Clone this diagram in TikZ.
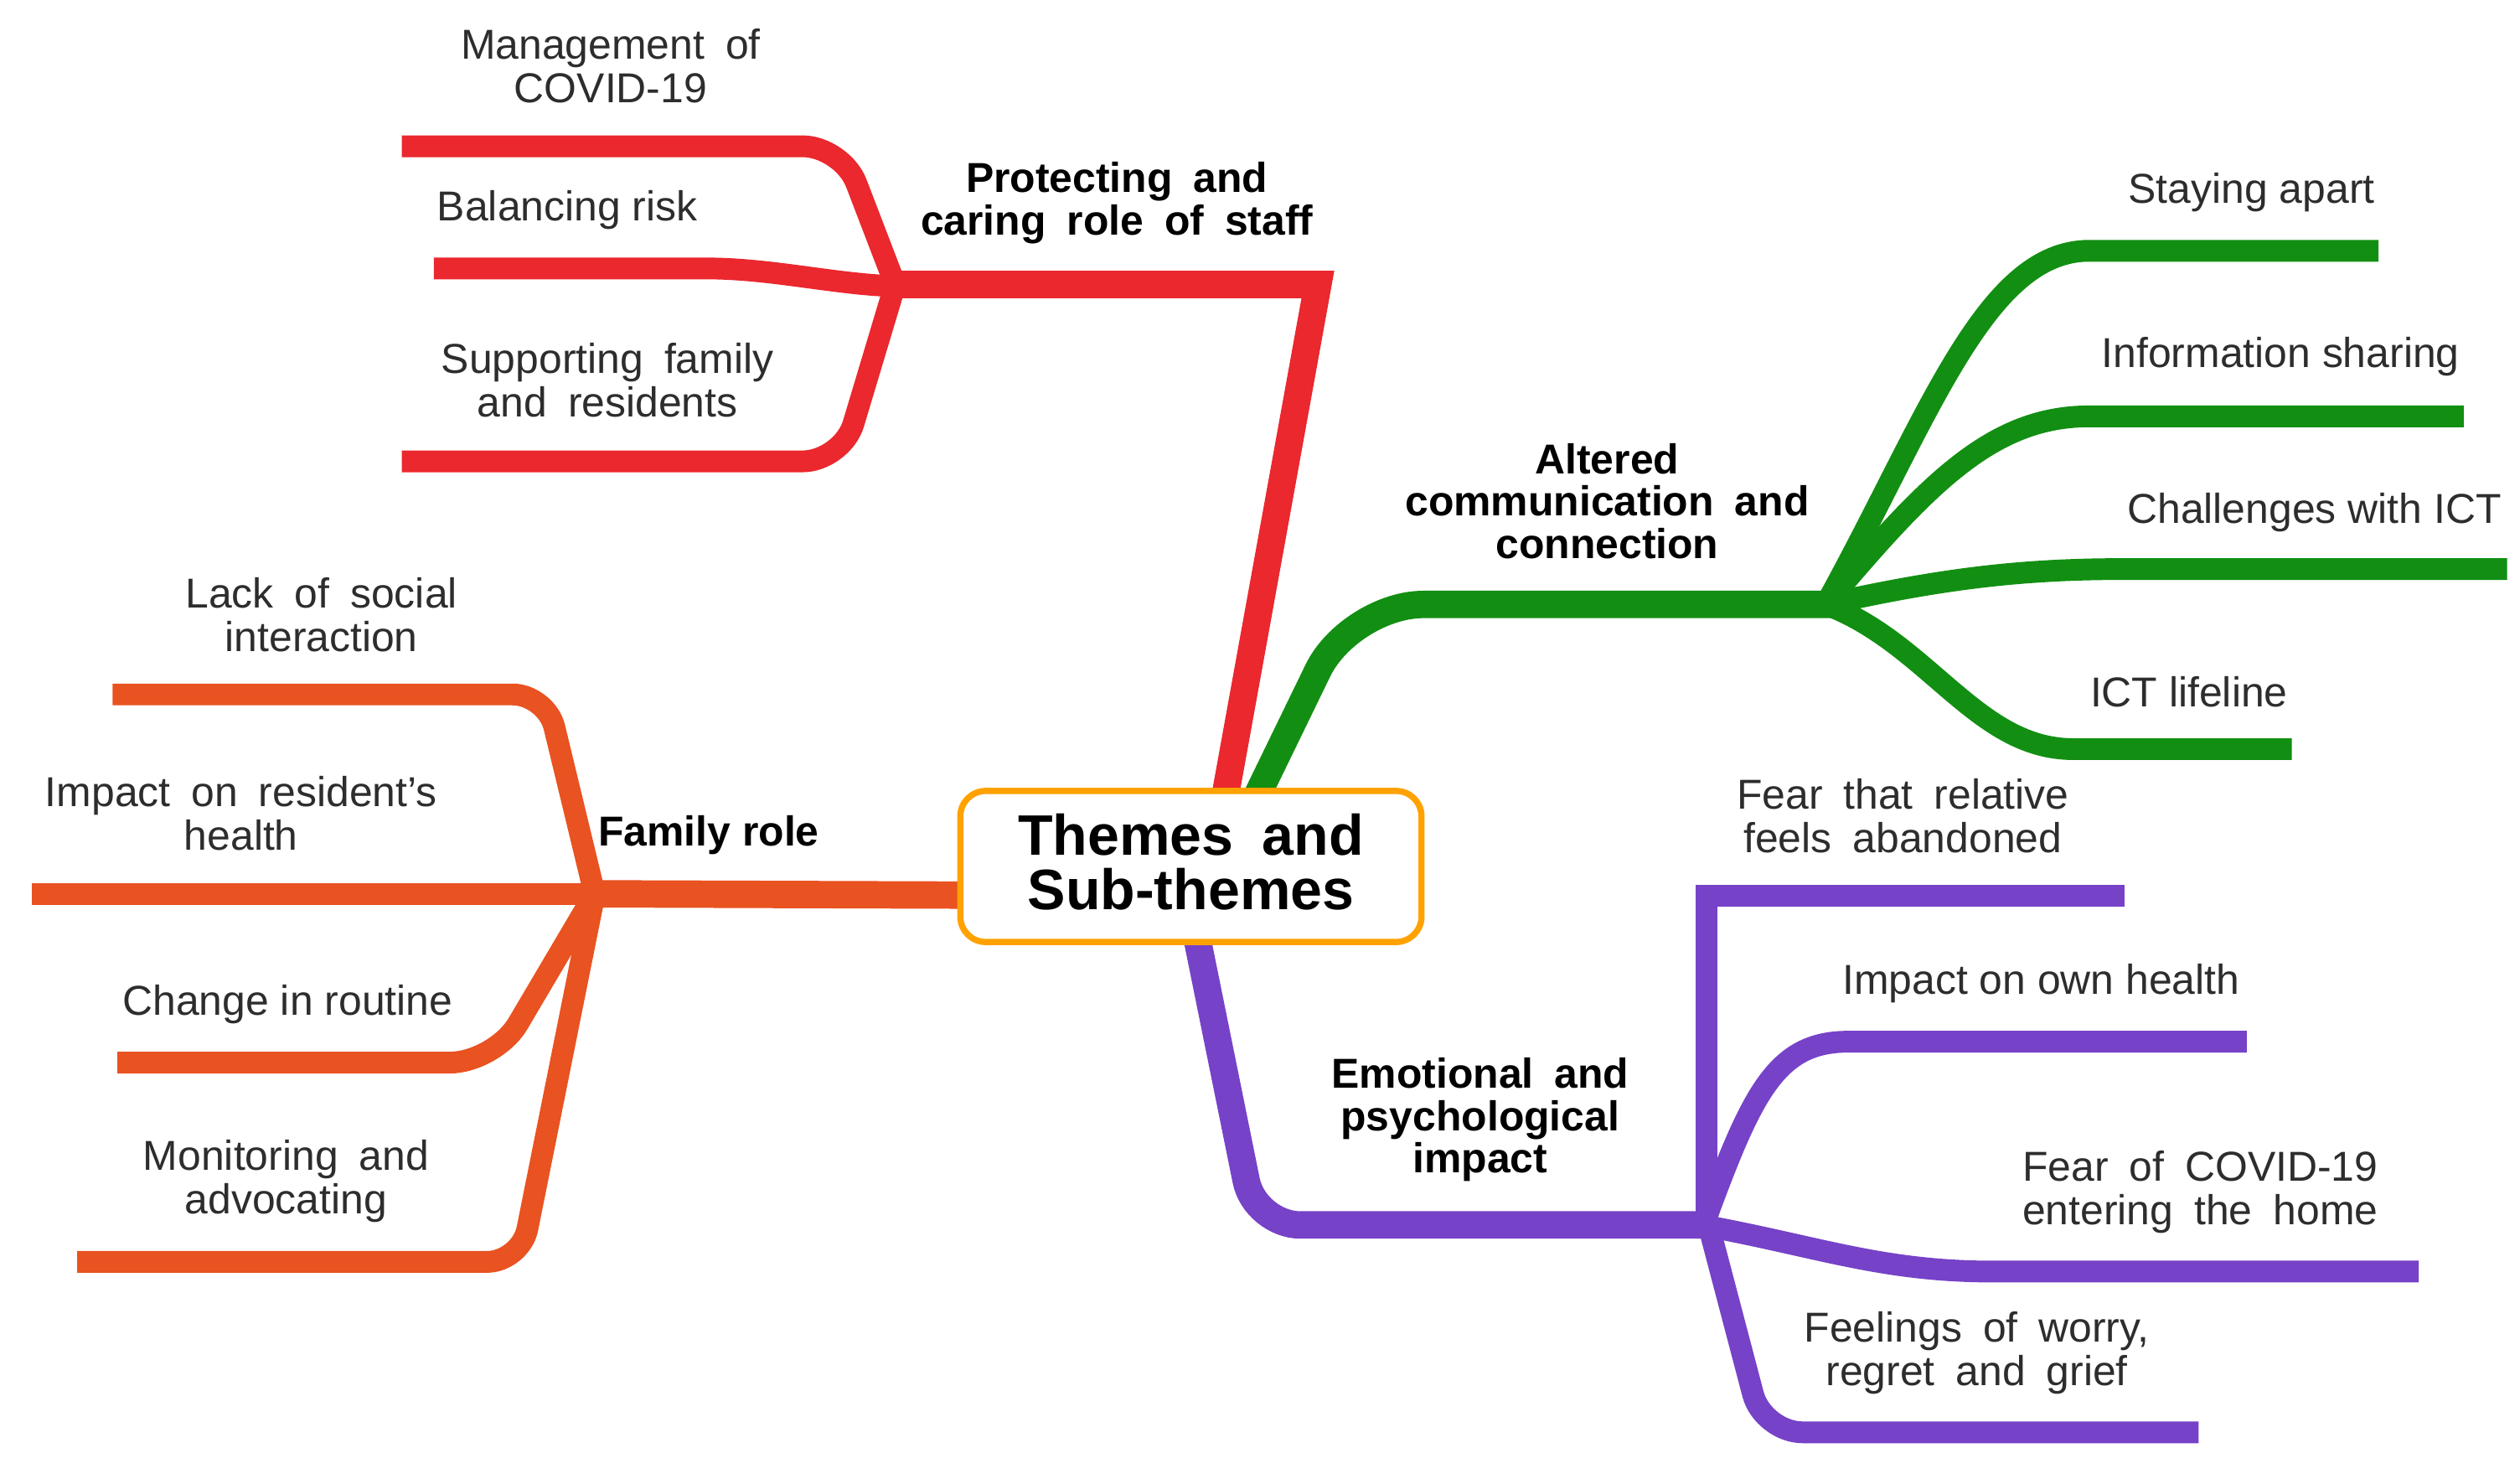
\documentclass[tikz,border=0pt]{standalone}
\usepackage{fontspec}
\setmainfont{Liberation Sans}
\definecolor{redl}{RGB}{234,40,46}
\definecolor{greenl}{RGB}{18,143,18}
\definecolor{orangel}{RGB}{233,82,33}
\definecolor{purplel}{RGB}{118,66,200}
\definecolor{boxc}{RGB}{255,162,0}
\definecolor{txtgray}{RGB}{45,45,45}
\newcommand{\wsp}{\hspace{0.5em}}
\begin{document}
\begin{tikzpicture}[x=0.02cm,y=-0.02cm,
  sub/.style={align=center, inner sep=0pt, text=txtgray, yshift=-1.5pt, font=\fontsize{14.8}{15.4}\selectfont},
  theme/.style={align=center, inner sep=0pt, text=black, yshift=-1.5pt, font=\bfseries\fontsize{14.8}{15.0}\selectfont},
  trunk/.style={line width=9.7pt, line cap=butt, line join=miter},
  branch/.style={line width=7.7pt, line cap=butt, line join=miter}]
\useasboundingbox (0,0) rectangle (1568,920);

% ---------- coordinates ----------
\coordinate (rtop) at (756,530);
\coordinate (rc) at (820,177);
\coordinate (rj) at (552,177);
\coordinate (r1) at (250,91);
\coordinate (r2) at (270,167);
\coordinate (r3) at (250,287);

\coordinate (gbot) at (770,520);
\coordinate (gj) at (1140,376);
\coordinate (g1) at (1480,156);
\coordinate (g2) at (1533,259);
\coordinate (g3) at (1560,354);
\coordinate (g4) at (1426,466);

\coordinate (obox) at (650,557);
\coordinate (oj) at (368,556);
\coordinate (o1) at (70,432);
\coordinate (o2) at (20,556);
\coordinate (o3) at (73,661);
\coordinate (o4) at (48,785);

\coordinate (ptop) at (738,550);
\coordinate (pj) at (1062,762);
\coordinate (p1) at (1322,557);
\coordinate (p2) at (1398,648);
\coordinate (p3) at (1505,791);
\coordinate (p4) at (1368,891);

% ---------- red ----------
\draw[trunk, redl] (rtop) -- (rc) -- (rj);
\draw[branch, redl, rounded corners=14pt] (557,177) -- (524,91) -- (r1);
\draw[branch, redl] (557,178) .. controls (520,177) and (480,167) .. (440,167) -- (r2);
\draw[branch, redl, rounded corners=14pt] (557,177) -- (524,287) -- (r3);

% ---------- green ----------
\draw[trunk, greenl, rounded corners=26pt] (gbot) -- (840,376) -- (gj);
\draw[branch, greenl] (1136,376) .. controls (1200,260) and (1235,156) .. (1300,156) -- (g1);
\draw[branch, greenl] (1136,376) .. controls (1200,300) and (1240,259) .. (1300,259) -- (g2);
\draw[branch, greenl] (1136,376) .. controls (1200,362) and (1250,354) .. (1320,354) -- (g3);
\draw[branch, greenl] (1136,376) .. controls (1200,400) and (1230,466) .. (1290,466) -- (g4);

% ---------- orange ----------
\draw[trunk, orangel] (obox) -- (oj);
\draw[branch, orangel, rounded corners=12pt] (370,556) -- (340,432) -- (o1);
\draw[branch, orangel] (372,556) -- (o2);
\draw[branch, orangel, rounded corners=16pt] (370,556) -- (308,661) -- (o3);
\draw[branch, orangel, rounded corners=12pt] (370,556) -- (324,785) -- (o4);

% ---------- purple ----------
\draw[trunk, purplel, rounded corners=16pt] (ptop) -- (781,762) -- (pj);
\draw[branch, purplel] (1062,766) -- (1062,557) -- (p1);
\draw[branch, purplel] (1060,762) .. controls (1090,680) and (1105,648) .. (1150,648) -- (p2);
\draw[branch, purplel] (1058,762) .. controls (1130,775) and (1170,791) .. (1240,791) -- (p3);
\draw[branch, purplel, rounded corners=14pt] (1062,758) -- (1097,891) -- (p4);

% ---------- central ----------
\node[draw=boxc, line width=2.2pt, fill=white, rounded corners=9pt,
      minimum width=5.74cm, minimum height=1.88cm, inner sep=0pt,
      align=center, font=\bfseries\fontsize{20.2}{19.4}\selectfont] (c) at (741,539)
      {Themes\wsp and\\Sub-themes\rule[-3.5pt]{0pt}{0pt}};

% ---------- theme labels ----------
\node[theme] (tred) at (695,123.5) {Protecting\wsp and\\caring\wsp role\wsp of\wsp staff};
\node[theme] (tgreen) at (1000,309) {Altered\\communication\wsp and\\connection};
\node[theme] (torange) at (441,517) {Family role};
\node[theme] (tpurple) at (921,694) {Emotional\wsp and\\psychological\\impact};

% ---------- sub-theme labels ----------
\node[sub] (s1) at (380,38.5) {Management\wsp of\\COVID-19};
\node[sub] (s2) at (353,128) {Balancing risk};
\node[sub] (s3) at (378,234) {Supporting\wsp family\\and\wsp residents};

\node[sub] (s4) at (1401,117) {Staying apart};
\node[sub] (s5) at (1419,219) {Information sharing};
\node[sub] (s6) at (1440,316) {Challenges with ICT};
\node[sub] (s7) at (1362,428) {ICT lifeline};

\node[sub] (s8) at (200,380) {Lack\wsp of\wsp social\\interaction};
\node[sub] (s9) at (150,503.5) {Impact\wsp on\wsp resident’s\\health};
\node[sub] (s10) at (179,622) {Change in routine};
\node[sub] (s11) at (178,732) {Monitoring\wsp and\\advocating};

\node[sub] (s12) at (1184,505) {Fear\wsp that\wsp relative\\feels\wsp abandoned};
\node[sub] (s13) at (1270,609) {Impact on own health};
\node[sub] (s14) at (1369,739) {Fear\wsp of\wsp COVID-19\\entering\wsp the\wsp home};
\node[sub] (s15) at (1230,839) {Feelings\wsp of\wsp worry,\\regret\wsp and\wsp grief};
\end{tikzpicture}
\end{document}
